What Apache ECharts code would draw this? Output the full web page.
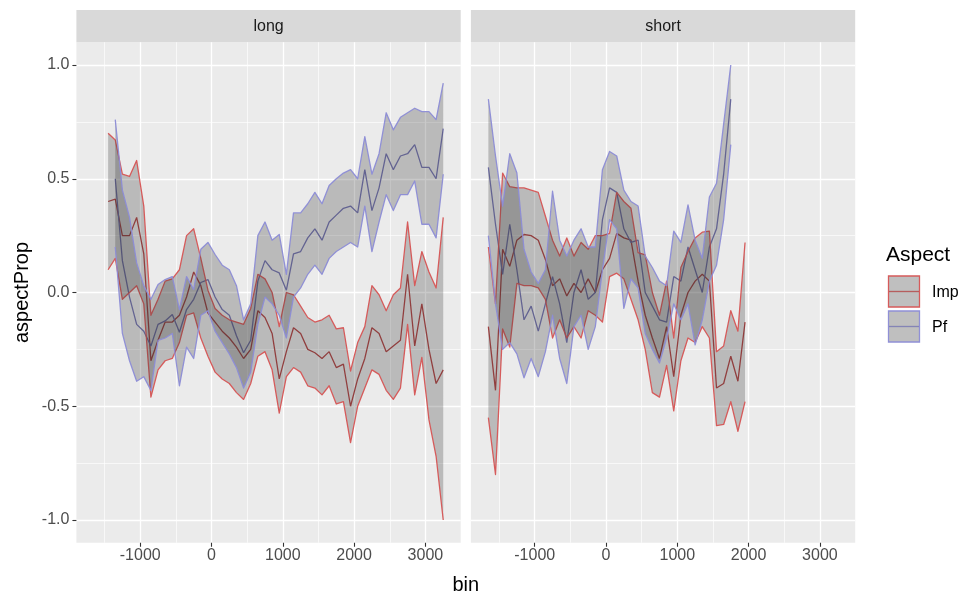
<!DOCTYPE html>
<html><head><meta charset="utf-8">
<script src="https://cdn.jsdelivr.net/npm/echarts@6/dist/echarts.min.js"></script>
<style>html,body{margin:0;padding:0;background:#fff}#c{width:964px;height:598px}</style>
</head><body><div id="c"></div>
<script>
// ---------- data ----------
const panels = ['long', 'short'];
const xMajorTicks = [-1000, 0, 1000, 2000, 3000];
const xMinorTicks = [-1500, -500, 500, 1500, 2500];
const yMajorTicks = [-1, -0.5, 0, 0.5, 1];
const yMinorTicks = [-0.75, -0.25, 0.25, 0.75];
const aspects = ['Imp', 'Pf'];

const longImpBins = [-1450,-1350,-1250,-1150,-1050,-950,-850,-750,-650,-550,-450,-350,-250,-150,-50,50,150,250,350,450,550,650,750,850,950,1050,1150,1250,1350,1450,1550,1650,1750,1850,1950,2050,2150,2250,2350,2450,2550,2650,2750,2850,2950,3050,3150,3250];
const longImpLo = [0.10,0.15,-0.03,0.00,0.03,-0.05,-0.46,-0.34,-0.30,-0.29,-0.22,-0.10,-0.09,-0.20,-0.28,-0.35,-0.38,-0.40,-0.44,-0.47,-0.40,-0.28,-0.26,-0.34,-0.53,-0.37,-0.33,-0.35,-0.41,-0.42,-0.45,-0.41,-0.49,-0.48,-0.66,-0.50,-0.42,-0.34,-0.36,-0.43,-0.47,-0.42,-0.14,-0.45,-0.285,-0.56,-0.72,-1.00];
const longImpMid = [0.40,0.41,0.25,0.25,0.33,0.17,-0.30,-0.21,-0.13,-0.13,-0.10,-0.02,0.09,0.03,-0.09,-0.13,-0.17,-0.20,-0.24,-0.29,-0.25,-0.08,-0.11,-0.18,-0.38,-0.26,-0.155,-0.18,-0.25,-0.265,-0.29,-0.26,-0.33,-0.315,-0.50,-0.38,-0.29,-0.155,-0.18,-0.26,-0.235,-0.21,0.08,-0.235,-0.05,-0.25,-0.40,-0.34];
const longImpHi = [0.70,0.67,0.52,0.51,0.58,0.38,-0.10,-0.03,0.05,0.06,0.10,0.25,0.28,0.15,0.01,-0.07,-0.10,-0.12,-0.13,-0.14,-0.07,0.08,0.06,0.00,-0.15,0.00,-0.01,-0.06,-0.11,-0.13,-0.12,-0.10,-0.16,-0.155,-0.345,-0.22,-0.15,0.03,-0.01,-0.08,-0.01,0.02,0.31,0.03,0.18,0.09,0.02,0.33];

const longPfBins = [-1350,-1250,-1150,-1050,-950,-850,-750,-650,-550,-450,-350,-250,-150,-50,50,150,250,350,450,550,650,750,850,950,1050,1150,1250,1350,1450,1550,1650,1750,1850,1950,2050,2150,2250,2350,2450,2550,2650,2750,2850,2950,3050,3150,3250];
const longPfLo = [0.20,-0.18,-0.30,-0.39,-0.37,-0.43,-0.21,-0.20,-0.18,-0.41,-0.24,-0.29,-0.10,-0.08,-0.17,-0.22,-0.27,-0.33,-0.42,-0.35,-0.14,-0.02,-0.05,-0.10,-0.20,-0.02,0.02,0.08,0.12,0.08,0.15,0.18,0.20,0.22,0.20,0.38,0.18,0.31,0.43,0.36,0.43,0.43,0.49,0.30,0.30,0.24,0.52];
const longPfMid = [0.50,0.14,-0.02,-0.14,-0.17,-0.235,-0.14,-0.125,-0.097,-0.175,-0.075,-0.03,0.044,0.057,-0.02,-0.075,-0.10,-0.19,-0.265,-0.21,0.05,0.14,0.10,0.086,0.01,0.17,0.18,0.24,0.28,0.23,0.31,0.34,0.37,0.38,0.35,0.54,0.36,0.46,0.61,0.54,0.60,0.61,0.65,0.55,0.55,0.50,0.72];
const longPfHi = [0.76,0.45,0.33,0.13,0.03,-0.03,0.035,0.057,0.07,-0.075,0.07,0.013,0.19,0.22,0.167,0.12,0.10,0.03,-0.12,-0.05,0.25,0.31,0.23,0.255,0.08,0.35,0.35,0.39,0.44,0.39,0.47,0.50,0.525,0.54,0.50,0.685,0.52,0.61,0.79,0.715,0.77,0.79,0.81,0.795,0.795,0.76,0.92];

const shortImpBins = [-1650,-1550,-1450,-1350,-1250,-1150,-1050,-950,-850,-750,-650,-550,-450,-350,-250,-150,-50,50,150,250,350,450,550,650,750,850,950,1050,1150,1250,1350,1450,1550,1650,1750,1850,1950];
const shortImpLo = [-0.55,-0.80,-0.16,-0.24,0.04,0.03,0.03,0.02,-0.03,-0.20,-0.12,-0.20,-0.15,-0.20,-0.08,-0.10,-0.13,0.07,0.085,0.06,-0.03,-0.12,-0.25,-0.44,-0.46,-0.32,-0.52,-0.30,-0.20,-0.22,-0.15,-0.20,-0.585,-0.58,-0.48,-0.61,-0.48];
const shortImpMid = [-0.15,-0.43,0.19,0.115,0.23,0.255,0.25,0.23,0.145,0.03,0.06,-0.015,0.04,0.00,0.06,0.00,0.10,0.15,0.26,0.24,0.23,0.05,-0.10,-0.20,-0.29,-0.15,-0.37,-0.10,0.00,0.05,0.08,0.05,-0.42,-0.40,-0.28,-0.39,-0.13];
const shortImpHi = [0.20,-0.05,0.525,0.465,0.46,0.46,0.45,0.44,0.335,0.23,0.16,0.24,0.16,0.22,0.19,0.25,0.25,0.26,0.44,0.40,0.37,0.175,0.165,0.00,-0.10,0.05,-0.20,0.11,0.18,0.24,0.265,0.27,-0.26,-0.235,-0.08,-0.17,0.22];

const shortPfBins = [-1650,-1550,-1450,-1350,-1250,-1150,-1050,-950,-850,-750,-650,-550,-450,-350,-250,-150,-50,50,150,250,350,450,550,650,750,850,950,1050,1150,1250,1350,1450,1550,1650,1750];
const shortPfLo = [0.25,-0.05,-0.25,-0.22,-0.27,-0.375,-0.29,-0.37,-0.26,-0.10,-0.29,-0.40,-0.15,-0.10,-0.25,-0.15,0.10,0.32,0.28,-0.07,0.06,0.02,-0.18,-0.25,-0.31,-0.20,-0.05,-0.12,-0.05,-0.23,-0.12,0.05,0.12,0.32,0.65];
const shortPfMid = [0.55,0.30,0.08,0.30,0.10,-0.12,-0.06,-0.17,-0.05,0.07,-0.05,-0.22,0.00,0.10,-0.03,0.00,0.32,0.46,0.44,0.28,0.22,0.23,0.00,-0.06,-0.12,-0.13,0.07,0.05,0.20,0.10,0.00,0.20,0.28,0.52,0.85];
const shortPfHi = [0.85,0.60,0.38,0.61,0.525,0.19,0.09,0.04,0.10,0.445,0.23,0.16,0.23,0.28,0.20,0.20,0.54,0.62,0.60,0.45,0.40,0.38,0.16,0.11,0.05,0.03,0.27,0.22,0.385,0.23,0.15,0.42,0.48,0.74,1.00];

// ---------- styling ----------
const FONT = "'Liberation Sans', Arial, Helvetica, sans-serif";
const X_MIN = -1895, X_MAX = 3495, Y_MIN = -1.1, Y_MAX = 1.1;
const PANEL_TOP = 42.25, PANEL_H = 500.5, PANEL_W = 384.3;
const PANEL_LEFT = [76.4, 470.9];
const BORDER = { Imp: 'rgba(214,84,84,0.95)', Pf: 'rgba(140,140,214,0.95)' };
const MIDCOL = { Imp: '#b44646', Pf: '#7676b4' };
const FILL = 'rgba(45,45,45,0.26)';

const grids = PANEL_LEFT.map(l => ({
  left: l, top: PANEL_TOP, width: PANEL_W, height: PANEL_H,
  show: true, backgroundColor: '#EBEBEB', borderWidth: 0, containLabel: false
}));

const xAxes = [], yAxes = [];
PANEL_LEFT.forEach((l, gi) => {
  xAxes.push({
    type: 'value', gridIndex: gi, min: X_MIN, max: X_MAX, position: 'bottom',
    axisLine: { show: false, onZero: false },
    axisTick: { show: true, length: 4, lineStyle: { color: '#333333', width: 1.1 }, customValues: xMajorTicks },
    axisLabel: { show: true, customValues: xMajorTicks, color: '#4D4D4D', fontSize: 16, fontFamily: FONT, margin: 5,
                 formatter: v => String(v) },
    splitLine: { show: true, lineStyle: { color: '#FFFFFF', width: 1.3 } }
  });
  xAxes.push({
    type: 'value', gridIndex: gi, min: X_MIN, max: X_MAX, position: 'top',
    axisLine: { show: false, onZero: false },
    axisTick: { show: false, customValues: xMinorTicks },
    axisLabel: { show: false, customValues: xMinorTicks },
    splitLine: { show: true, lineStyle: { color: '#FFFFFF', width: 0.65 } }
  });
  yAxes.push({
    type: 'value', gridIndex: gi, min: Y_MIN, max: Y_MAX, position: 'left',
    axisLine: { show: false, onZero: false },
    axisTick: { show: gi === 0, length: 4, lineStyle: { color: '#333333', width: 1.1 }, customValues: yMajorTicks },
    axisLabel: { show: gi === 0, customValues: yMajorTicks, color: '#4D4D4D', fontSize: 16, fontFamily: FONT, margin: 7,
                 formatter: v => Number(v).toFixed(1) },
    splitLine: { show: true, lineStyle: { color: '#FFFFFF', width: 1.3 } }
  });
  yAxes.push({
    type: 'value', gridIndex: gi, min: Y_MIN, max: Y_MAX, position: 'right',
    axisLine: { show: false, onZero: false },
    axisTick: { show: false, customValues: yMinorTicks },
    axisLabel: { show: false, customValues: yMinorTicks },
    splitLine: { show: true, lineStyle: { color: '#FFFFFF', width: 0.65 } }
  });
});

const panelData = [
  { Imp: [longImpBins, longImpLo, longImpMid, longImpHi], Pf: [longPfBins, longPfLo, longPfMid, longPfHi] },
  { Imp: [shortImpBins, shortImpLo, shortImpMid, shortImpHi], Pf: [shortPfBins, shortPfLo, shortPfMid, shortPfHi] }
];

function ribbonSeries(a, b, lo, hi, xi, yi) {
  const rows = b.map((x, i) => [x, lo[i], hi[i]]);
  return {
    type: 'custom', name: a + '-ribbon', xAxisIndex: xi, yAxisIndex: yi, z: 3, silent: true, clip: true,
    data: rows,
    encode: { x: 0, y: [1, 2] },
    renderItem: function (params, api) {
      if (params.dataIndex !== 0) return null;
      const upper = rows.map(r => api.coord([r[0], r[2]]));
      const lower = rows.map(r => api.coord([r[0], r[1]]));
      const poly = upper.concat(lower.slice().reverse());
      return {
        type: 'group',
        children: [
          { type: 'polygon', shape: { points: poly }, style: { fill: FILL, stroke: null } },
          { type: 'polyline', shape: { points: lower }, style: { fill: null, stroke: BORDER[a], lineWidth: 1.3, lineJoin: 'round' } },
          { type: 'polyline', shape: { points: upper }, style: { fill: null, stroke: BORDER[a], lineWidth: 1.3, lineJoin: 'round' } }
        ]
      };
    }
  };
}

const series = [];
panelData.forEach((pd, gi) => {
  const xi = gi * 2, yi = gi * 2;
  aspects.forEach(a => {
    const [b, lo, mid, hi] = pd[a];
    series.push({ type: 'line', name: a + '-mid-' + gi, xAxisIndex: xi, yAxisIndex: yi,
      data: b.map((x, i) => [x, mid[i]]),
      symbol: 'none', silent: true, z: 2, lineStyle: { color: MIDCOL[a], width: 1.3 } });
  });
  aspects.forEach(a => {
    const [b, lo, mid, hi] = pd[a];
    series.push(ribbonSeries(a, b, lo, hi, xi, yi));
  });
});

// strips, axis titles, legend
const graphic = [];
PANEL_LEFT.forEach((l, gi) => {
  graphic.push({ type: 'rect', shape: { x: l, y: 10, width: PANEL_W, height: PANEL_TOP - 10 }, style: { fill: '#D9D9D9' }, silent: true });
  graphic.push({ type: 'text', x: l + PANEL_W / 2, y: 26.5, style: { text: panels[gi], fill: '#1A1A1A', font: '16px ' + FONT, align: 'center', verticalAlign: 'middle' }, silent: true });
});
graphic.push({ type: 'text', x: 465.8, y: 585, style: { text: 'bin', fill: '#000', font: '20px ' + FONT, align: 'center', verticalAlign: 'middle' }, silent: true });
graphic.push({ type: 'text', x: 22, y: 292.5, rotation: Math.PI / 2, style: { text: 'aspectProp', fill: '#000', font: '20px ' + FONT, align: 'center', verticalAlign: 'middle' }, silent: true });
graphic.push({ type: 'text', x: 886, y: 255, style: { text: 'Aspect', fill: '#000', font: '21px ' + FONT, align: 'left', verticalAlign: 'middle' }, silent: true });
aspects.forEach((a, i) => {
  const y0 = 275.5 + i * 35;
  graphic.push({ type: 'rect', shape: { x: 888, y: y0, width: 32, height: 32 }, style: { fill: '#F2F2F2' }, silent: true });
  graphic.push({ type: 'rect', shape: { x: 888.5, y: y0 + 0.5, width: 31, height: 31 }, style: { fill: FILL, stroke: BORDER[a], lineWidth: 1.3 }, silent: true });
  graphic.push({ type: 'line', shape: { x1: 889, y1: y0 + 16, x2: 919, y2: y0 + 16 }, style: { stroke: MIDCOL[a], lineWidth: 1.3, opacity: 0.8 }, silent: true });
  graphic.push({ type: 'text', x: 932, y: y0 + 17, style: { text: a, fill: '#000', font: '16px ' + FONT, align: 'left', verticalAlign: 'middle' }, silent: true });
});

const chart = echarts.init(document.getElementById('c'), null, { renderer: 'canvas', width: 964, height: 598 });
chart.setOption({
  backgroundColor: '#FFFFFF',
  animation: false,
  grid: grids,
  xAxis: xAxes,
  yAxis: yAxes,
  series: series,
  graphic: graphic
});
</script>
</body></html>
